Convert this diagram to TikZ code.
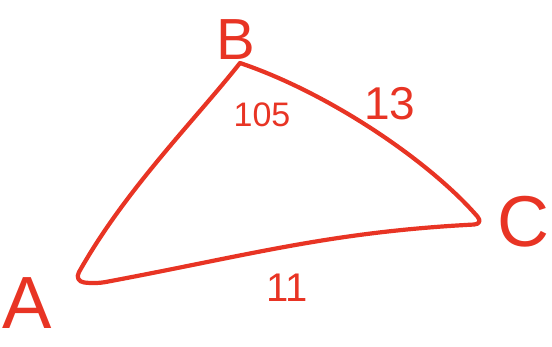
\documentclass[tikz,border=0pt]{standalone}
\usepackage{fontspec}
\setmainfont{Liberation Sans}
\definecolor{Pen}{RGB}{232,52,36}
\usetikzlibrary{positioning}

\begin{document}
\begin{tikzpicture}[x=1pt, y=-1pt,
    side/.style={draw=Pen, line width=4.2pt, line cap=round, line join=round},
    vlab/.style={text=Pen, inner sep=0pt},
    nlab/.style={text=Pen, inner sep=0pt}]
  \useasboundingbox (0,0) rectangle (552,346);
  % Vertices
  \coordinate (a) at (74,281);
  \coordinate (b) at (240,63);
  \coordinate (c) at (484,224);
  % Triangle
  \draw[side, rounded corners=10pt]
    (b) .. controls (195,120) and (125,190) .. (a)
    -- (95,284) .. controls (250,255) and (330,232) .. (c)
    -- (470,208) .. controls (410,148) and (320,90) .. (b);
  % Vertex labels
  \node[vlab, font=\fontsize{58}{58}\selectfont] (lb) at (236,40) {B};
  \node[vlab, font=\fontsize{74}{74}\selectfont] (la) at (27,303) {A};
  \node[vlab, font=\fontsize{72}{72}\selectfont] (lc) at (523,222) {C};
  % Side and angle labels
  \node[nlab, font=\fontsize{34}{34}\selectfont] (ang) at (262,115) {105};
  \node[nlab, font=\fontsize{46}{46}\selectfont] (bc) at (390,104) {13};
  \node[nlab, font=\fontsize{40}{40}\selectfont] (ca) at (287,288) {11};
\end{tikzpicture}
\end{document}
